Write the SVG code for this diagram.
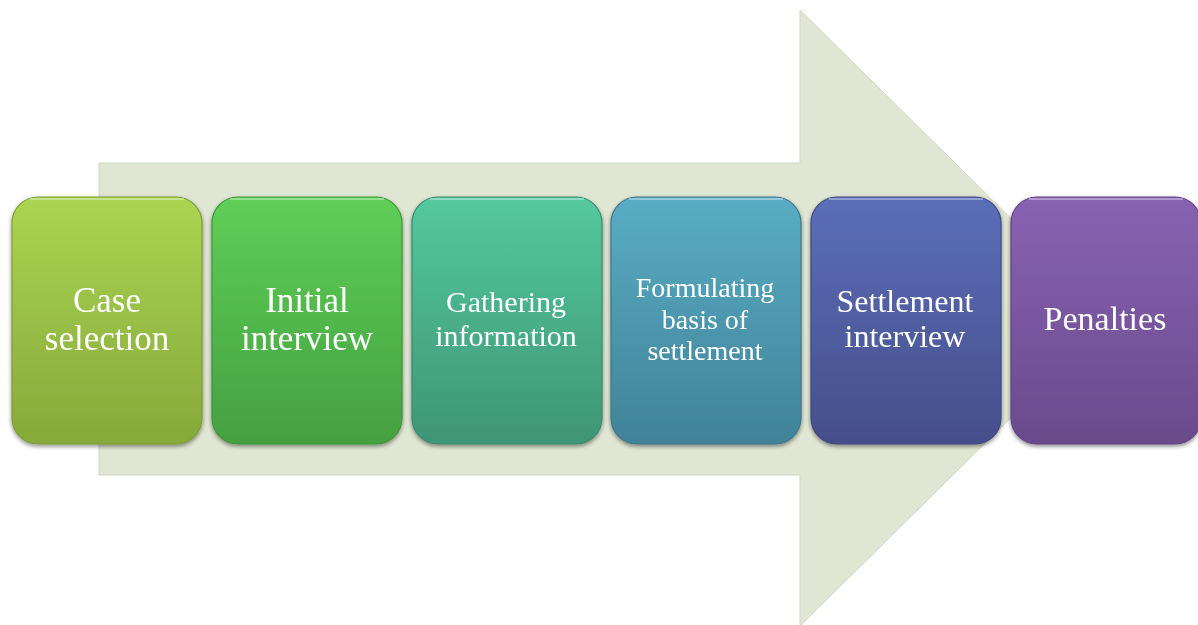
<svg xmlns="http://www.w3.org/2000/svg" width="1198" height="625" viewBox="0 0 1198 625">
<style>
  .box { stroke-width: 1.2; }
  .lbl { font-family: "Liberation Serif", "Times New Roman", serif; fill: #ffffff; text-anchor: middle; }
  .hl { fill: none; stroke: #ffffff; stroke-opacity: 0.35; stroke-width: 2; }
</style>
<defs>
  <linearGradient id="g1" x1="0" y1="0" x2="0" y2="1"><stop offset="0" stop-color="#aad552"/><stop offset="1" stop-color="#87a83a"/></linearGradient>
  <linearGradient id="g2" x1="0" y1="0" x2="0" y2="1"><stop offset="0" stop-color="#5ecf57"/><stop offset="1" stop-color="#45a040"/></linearGradient>
  <linearGradient id="g3" x1="0" y1="0" x2="0" y2="1"><stop offset="0" stop-color="#54c99e"/><stop offset="1" stop-color="#3e9575"/></linearGradient>
  <linearGradient id="g4" x1="0" y1="0" x2="0" y2="1"><stop offset="0" stop-color="#59adc4"/><stop offset="1" stop-color="#418298"/></linearGradient>
  <linearGradient id="g5" x1="0" y1="0" x2="0" y2="1"><stop offset="0" stop-color="#5b6eb9"/><stop offset="1" stop-color="#464e8a"/></linearGradient>
  <linearGradient id="g6" x1="0" y1="0" x2="0" y2="1"><stop offset="0" stop-color="#8862b3"/><stop offset="1" stop-color="#6a4a8b"/></linearGradient>
  <filter id="sh" x="-10%" y="-10%" width="120%" height="120%">
    <feGaussianBlur in="SourceAlpha" stdDeviation="2"/>
    <feOffset dx="0" dy="2" result="b"/>
    <feComponentTransfer><feFuncA type="linear" slope="0.45"/></feComponentTransfer>
    <feMerge><feMergeNode/><feMergeNode in="SourceGraphic"/></feMerge>
  </filter>
</defs>
<rect width="1198" height="625" fill="#ffffff"/>
<g id="arrow">
  <polygon points="99,163 800,163 800,10 1112,318 800,626 800,475 99,475" fill="#dfe6d3" stroke="#cfd9c3" stroke-width="1"/>
</g>
<g id="connectors"></g>
<g id="n1" filter="url(#sh)">
  <rect class="box" x="12" y="197" width="190" height="247" rx="26" fill="url(#g1)" stroke="#7e9e34"/>
  <path class="hl" d="M30,199 H184"/>
  <text class="lbl" x="107" y="312" font-size="35">Case</text>
  <text class="lbl" x="107" y="350" font-size="35">selection</text>
</g>
<g id="n2" filter="url(#sh)">
  <rect class="box" x="212" y="197" width="190" height="247" rx="26" fill="url(#g2)" stroke="#3f953a"/>
  <path class="hl" d="M230,199 H384"/>
  <text class="lbl" x="307" y="312" font-size="35">Initial</text>
  <text class="lbl" x="307" y="350" font-size="35">interview</text>
</g>
<g id="n3" filter="url(#sh)">
  <rect class="box" x="412" y="197" width="190" height="247" rx="26" fill="url(#g3)" stroke="#3a8b6c"/>
  <path class="hl" d="M430,199 H584"/>
  <text class="lbl" x="506" y="312" font-size="30">Gathering</text>
  <text class="lbl" x="506" y="346" font-size="30">information</text>
</g>
<g id="n4" filter="url(#sh)">
  <rect class="box" x="611" y="197" width="190" height="247" rx="26" fill="url(#g4)" stroke="#3c788c"/>
  <path class="hl" d="M629,199 H783"/>
  <text class="lbl" x="705" y="297" font-size="28">Formulating</text>
  <text class="lbl" x="705" y="329" font-size="28">basis of</text>
  <text class="lbl" x="705" y="360" font-size="28">settlement</text>
</g>
<g id="n5" filter="url(#sh)">
  <rect class="box" x="811" y="197" width="190" height="247" rx="26" fill="url(#g5)" stroke="#414880"/>
  <path class="hl" d="M829,199 H983"/>
  <text class="lbl" x="905" y="312" font-size="32">Settlement</text>
  <text class="lbl" x="905" y="347" font-size="32">interview</text>
</g>
<g id="n6" filter="url(#sh)">
  <rect class="box" x="1011" y="197" width="190" height="247" rx="26" fill="url(#g6)" stroke="#614482"/>
  <path class="hl" d="M1029,199 H1183"/>
  <text class="lbl" x="1105" y="330" font-size="34">Penalties</text>
</g>
</svg>
